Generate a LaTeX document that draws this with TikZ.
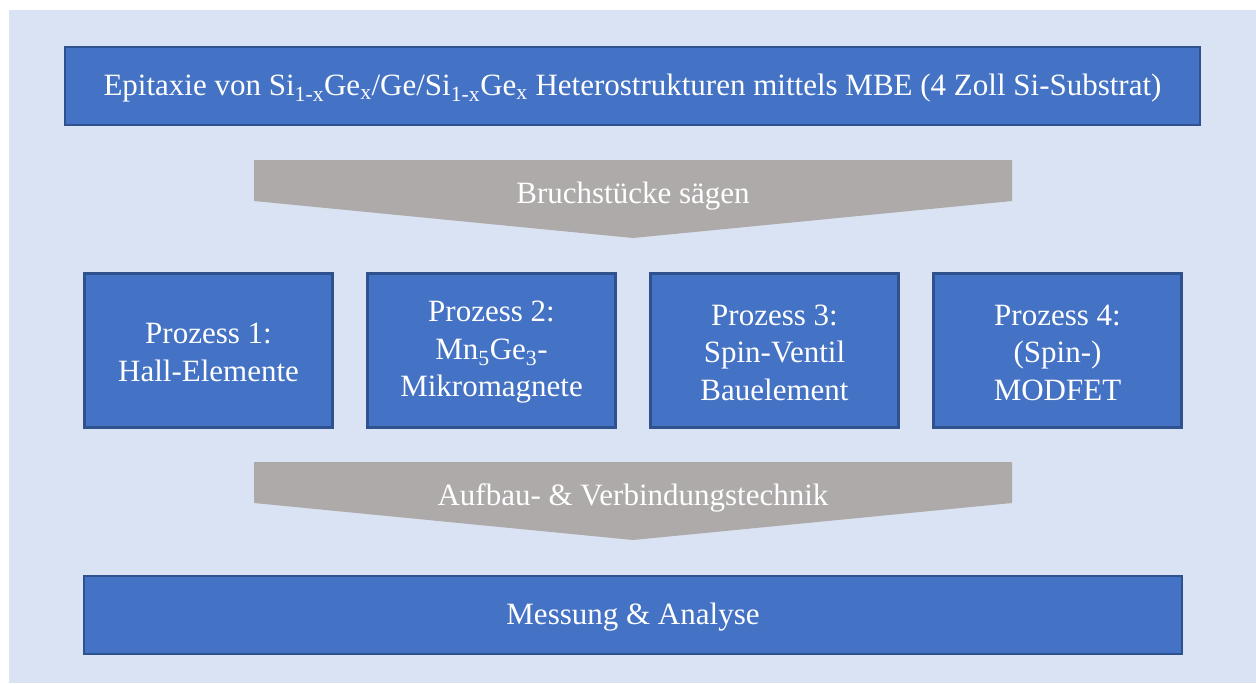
\documentclass[tikz,border=0pt]{standalone}
\usepackage{fontspec}
\setmainfont{Liberation Serif}
\definecolor{panel}{HTML}{DAE3F3}
\definecolor{boxfill}{HTML}{4472C4}
\definecolor{boxline}{HTML}{2F528F}
\definecolor{arrowgray}{HTML}{AEAAAA}
\newcommand{\sbs}[1]{\textsubscript{#1}}
\tikzset{
  x=1pt, y=-1pt,
  bluebox/.style={draw=boxline, line width=2.5pt, fill=boxfill, text=white,
    align=center, inner sep=0pt, font=\fontsize{31}{37.5}\selectfont},
  graytext/.style={text=white, font=\fontsize{31}{37.5}\selectfont, inner sep=0pt},
}
\begin{document}
\begin{tikzpicture}
\useasboundingbox (0,0) rectangle (1256,683);
\fill[white] (0,0) rectangle (1256,683);
\fill[panel] (9,10) rectangle (1256,683);

% top box
\node[bluebox, minimum width=1135pt, minimum height=78pt] (top) at (632.5,86) {};
\node[text=white, font=\fontsize{31}{37.5}\selectfont, inner sep=0pt] (toptext) at (632.5,88)
  {Epitaxie von Si\sbs{1-x}Ge\sbs{x}/Ge/Si\sbs{1-x}Ge\sbs{x} Heterostrukturen mittels MBE (4 Zoll Si-Substrat)};

% gray arrow 1
\fill[arrowgray] (254,160) -- (1012,160) -- (1012,201) -- (633,238) -- (254,201) -- cycle;
\node[graytext] (saw) at (633,196) {Bruchstücke sägen};

% process boxes
\node[bluebox, minimum width=248pt, minimum height=154pt] (p1) at (208.5,350.5) {};
\node[bluebox, minimum width=248pt, minimum height=154pt] (p2) at (491.5,350.5) {};
\node[bluebox, minimum width=248pt, minimum height=154pt] (p3) at (774.5,350.5) {};
\node[bluebox, minimum width=248pt, minimum height=154pt] (p4) at (1057.5,350.5) {};
\node[bluebox, draw=none, fill=none] (t1) at ([yshift=-2pt]p1.center) {Prozess 1:\\Hall-Elemente};
\node[bluebox, draw=none, fill=none] (t2) at ([yshift=-2pt]p2.center) {Prozess 2:\\Mn\sbs{5}Ge\sbs{3}-\\Mikromagnete};
\node[bluebox, draw=none, fill=none] (t3) at ([yshift=-2pt]p3.center) {Prozess 3:\\Spin-Ventil\\Bauelement};
\node[bluebox, draw=none, fill=none] (t4) at ([yshift=-2pt]p4.center) {Prozess 4:\\(Spin-)\\MODFET};

% gray arrow 2
\fill[arrowgray] (254,462) -- (1012,462) -- (1012,503) -- (633,540) -- (254,503) -- cycle;
\node[graytext] (avt) at (633,498) {Aufbau- \& Verbindungstechnik};

% bottom box
\node[bluebox, minimum width=1098pt, minimum height=78pt] (bottom) at (633,615) {};
\node[graytext] (bottomtext) at (633,617) {Messung \& Analyse};
\end{tikzpicture}
\end{document}
